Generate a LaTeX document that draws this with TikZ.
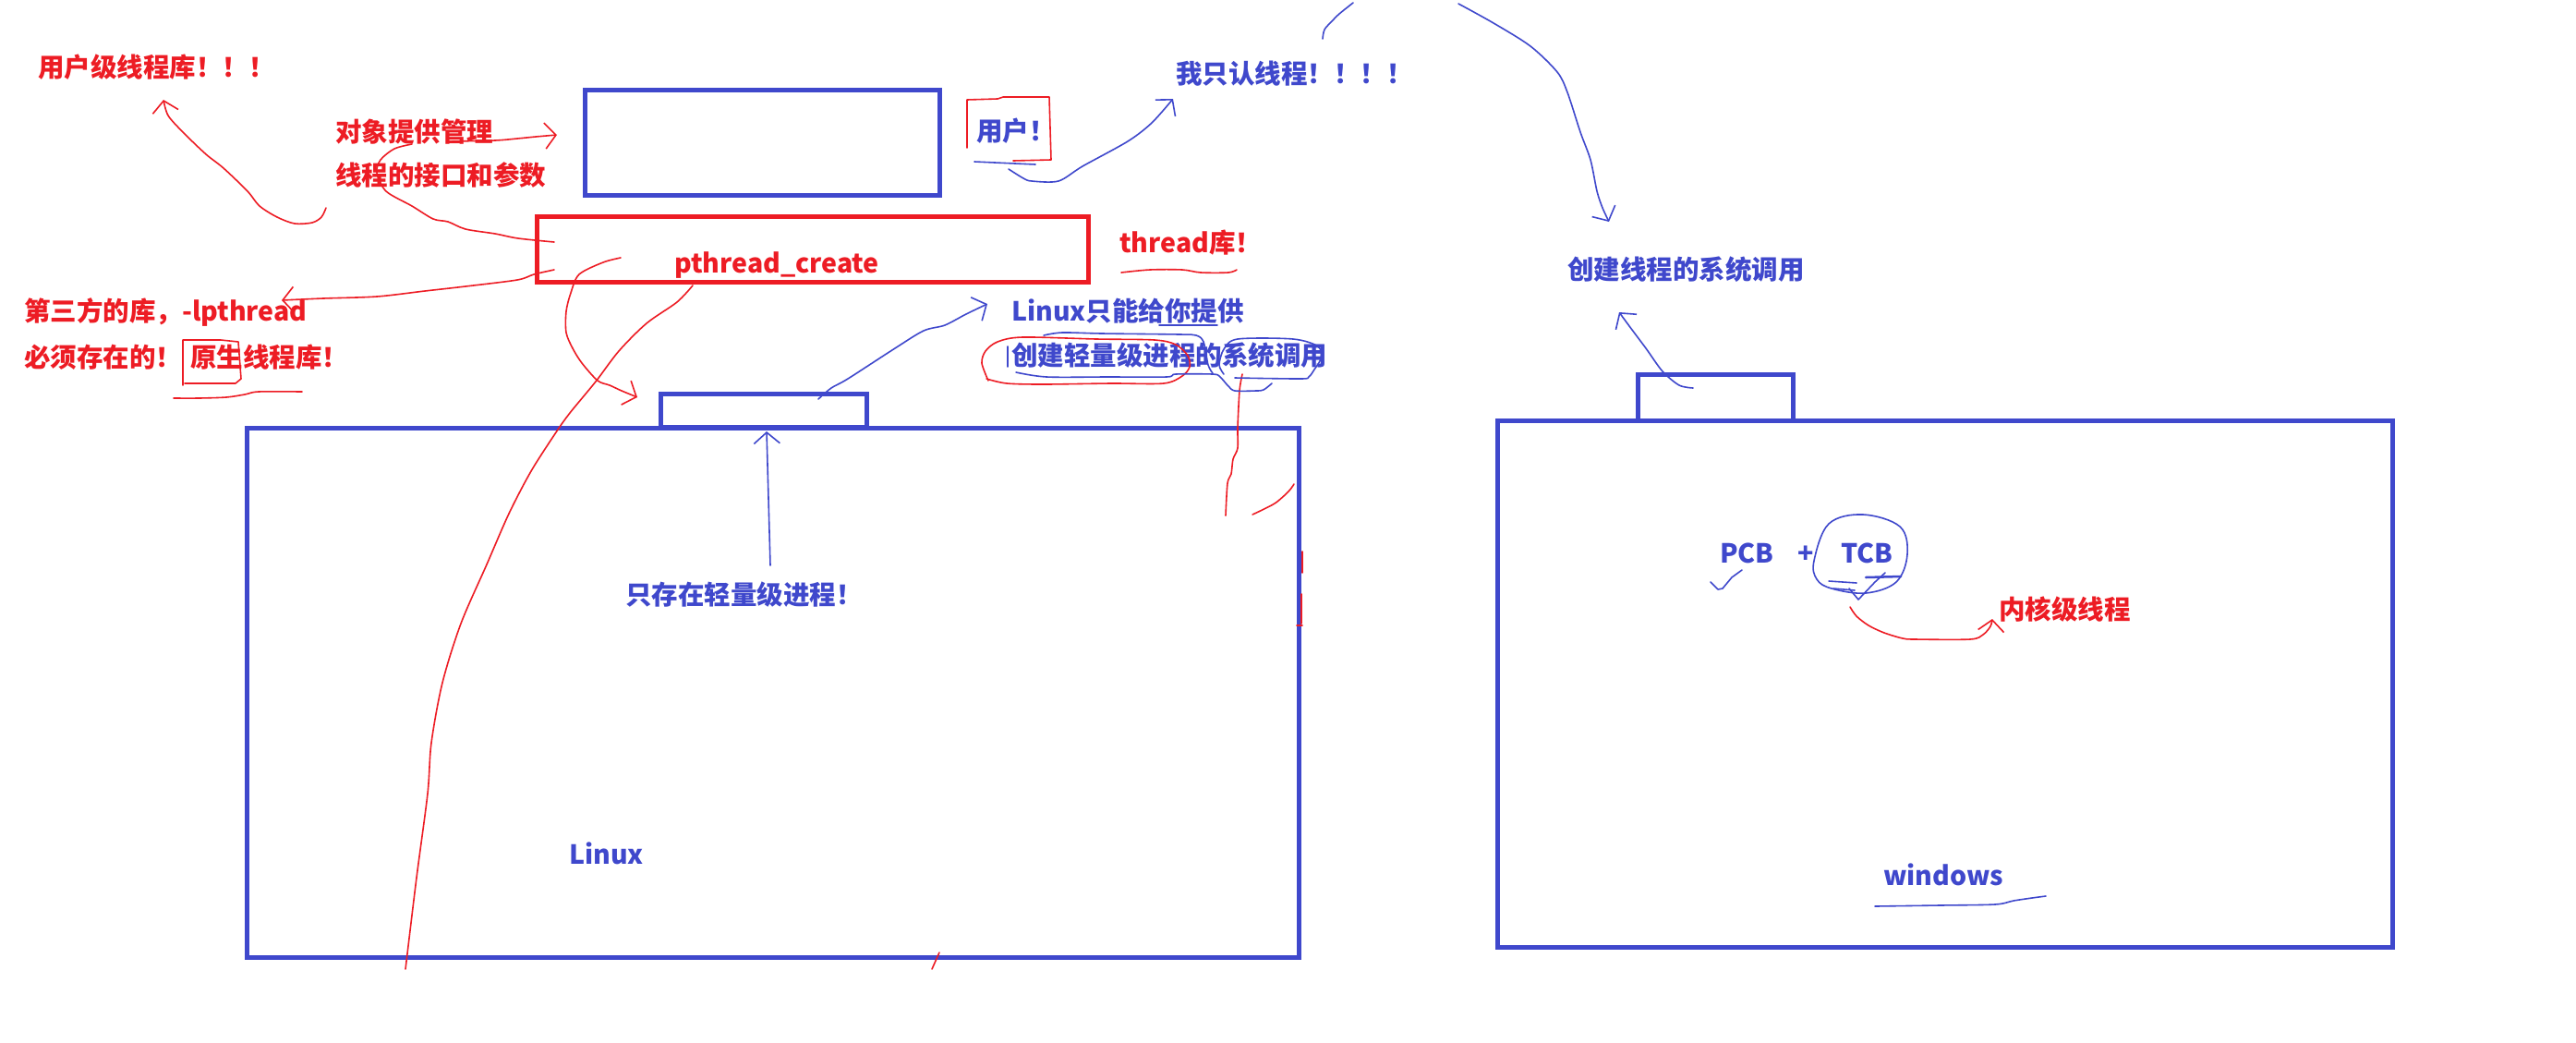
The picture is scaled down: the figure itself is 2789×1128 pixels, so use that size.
\documentclass[tikz,border=0pt]{standalone}
\usepackage{fontspec}
\setmainfont{Noto Sans CJK SC}
\usetikzlibrary{arrows.meta}
\definecolor{pblue}{HTML}{3F48CC}
\definecolor{pred}{HTML}{ED1C24}
\begin{document}
\begin{tikzpicture}[x=1pt,y=-1pt,
  box/.style={draw=pblue,line width=5pt,inner sep=0pt,outer sep=0pt},
  rbox/.style={draw=pred,line width=5pt,inner sep=0pt,outer sep=0pt},
  lbl/.style={font=\bfseries\fontsize{28.5}{30}\selectfont,inner sep=0pt,anchor=west},
  rl/.style={lbl,text=pred},
  bl/.style={lbl,text=pblue},
  rpen/.style={draw=pred,line width=1.6pt,line cap=round,line join=round},
  bpen/.style={draw=pblue,line width=1.6pt,line cap=round,line join=round},
  tip/.style={-{Straight Barb[length=12pt,width=28pt]}}
]
\useasboundingbox[fill=white] (0,0) rectangle (2789,1128);

% ---------- boxes ----------
\node[box,minimum width=384pt,minimum height=114pt] (userbox) at (825,154) {};
\node[rbox,minimum width=597pt,minimum height=71pt] (pbox) at (879.5,270) {};
\node[box,minimum width=223pt,minimum height=36pt] (ltab) at (826.5,444) {};
\node[box,minimum width=1139pt,minimum height=573pt] (lbox) at (836.5,749.5) {};
\node[box,minimum width=168pt,minimum height=50pt] (wtab) at (1857,430) {};
\node[box,minimum width=969pt,minimum height=570pt] (wbox) at (2105.5,740) {};

% ---------- texts ----------
\node[rl] (tuserlib) at (41,73) {用户级线程库！！！};
\node[rl] (tobj1) at (363,143) {对象提供管理};
\node[rl] (tobj2) at (363,190) {线程的接口和参数};
\node[rl] (tthird) at (26,338) {第三方的库，-lpthread};
\node[rl] (tmust) at (26,387) {必须存在的！\hspace{9pt}原生线程库！};
\node[rl] (tpc) at (730,287) {pthread\_create};
\node[rl] (tthread) at (1212,263) {thread库！};
\node[bl] (tuser) at (1057,142) {用户！};
\node[bl] (tonly) at (1273,80) {我只认线程！！！！};
\node[bl] (tlx1) at (1095,337) {Linux只能给你提供};
\node[bl] (tlx2) at (1095,385) {创建轻量级进程的系统调用};
\node[bl] (tlwp) at (677,644) {只存在轻量级进程！};
\node[bl] (tlinux) at (616,924) {Linux};
\node[bl] (twinsys) at (1697,292) {创建线程的系统调用};
\node[bl] (tpcb) at (1862,599) {PCB};
\node[bl,anchor=center] (tplus) at (1955,600) {+};
\node[bl] (ttcb) at (1993,599) {TCB};
\node[bl] (twin) at (2039,947) {windows};
\node[rl] (tkernel) at (2164,660) {内核级线程};

% ---------- red freehand ----------
% arrow up to 用户级线程库
\draw[rpen,tip] plot[smooth,tension=0.5] coordinates {(353,225) (348,235) (338,241) (319,242) (300,235) (281,223) (268,207) (242,182) (223,167) (198,143) (182,125) (177,108)};
% arrow to user box
\draw[rpen,tip] plot[smooth,tension=0.5] coordinates {(490,153) (536,152) (560,150) (580,148) (603,146)};
% bracket curve to pthread box
\draw[rpen] plot[smooth,tension=0.5] coordinates {(446,156) (427,161) (412,173) (408,187) (418,207) (446,223) (469,237) (485,240) (504,248) (536,253) (561,258) (600,262)};
% arrow to 第三方
\draw[rpen,tip] plot[smooth,tension=0.5] coordinates {(600,292) (578,297) (560,303) (504,310) (460,315) (408,321) (350,323) (305,325)};
% small box round 原生
\draw[rpen] (198,417) -- (198,368) -- (239,368) -- (258,370) -- (261,410) -- (255,415) -- (200,415);
% underline 原生线程库
\draw[rpen] plot[smooth,tension=0.5] coordinates {(188,431) (215,431) (245,430) (265,427) (280,424) (327,424)};
% curve A to Linux tab
\draw[rpen,tip] plot[smooth,tension=0.5] coordinates {(672,279) (653,284) (627,297) (618,317) (613,337) (613,360) (620,377) (630,393) (647,412) (660,417) (673,423) (690,430)};
% long curve B
\draw[rpen] plot[smooth,tension=0.5] coordinates {(750,309) (733,327) (700,350) (670,380) (645,413) (617,447) (602,468) (575,510) (551,556) (527,611) (499,675) (479,739) (467,804) (463,859) (451,950) (439,1049)};
% ellipse round 创建轻量级
\draw[rpen] plot[smooth,tension=0.5] coordinates {(1070,412) (1063,393) (1067,380) (1080,370) (1107,365) (1187,367) (1250,368) (1273,373) (1286,385) (1288,397) (1280,407) (1260,415) (1203,415) (1130,416) (1090,415) (1068,410)};
% vertical red line near Linux right
\draw[rpen] plot[smooth,tension=0.5] coordinates {(1345,405) (1342,423) (1340,463) (1340,485) (1335,497) (1333,513) (1329,523) (1327,558)};
\draw[rpen] plot[smooth,tension=0.5] coordinates {(1356,557) (1380,545) (1395,532) (1401,524)};
\draw[rpen] (1410,597) -- (1410,620);
\draw[rpen] (1409,643) -- (1409,675);
\draw[rpen] (1404,677) -- (1410,677);
% small bottom stroke
\draw[rpen] (1017,1031) -- (1009,1049);
% underline thread库
\draw[rpen] plot[smooth,tension=0.5] coordinates {(1214,295) (1245,292) (1280,292) (1300,295) (1330,295) (1339,292)};
% box round 用户！
\draw[rpen] (1047,160) -- (1047,108) -- (1080,107) -- (1086,105) -- (1136,105) -- (1138,173) -- (1097,174);
% TCB -> 内核级线程
\draw[rpen,tip] plot[smooth,tension=0.5] coordinates {(2003,657) (2010,667) (2023,677) (2040,685) (2060,691) (2073,692) (2133,692) (2147,687) (2155,678) (2157,670)};

% ---------- blue freehand ----------
% under 用户 and arrow to 我只认线程
\draw[bpen] (1055,175) -- (1121,178);
\draw[bpen,tip] plot[smooth,tension=0.5] coordinates {(1092,183) (1108,193) (1117,196) (1146,196) (1172,180) (1221,153) (1247,133) (1270,107)};
% top small stroke
\draw[bpen] plot[smooth,tension=0.5] coordinates {(1465,3) (1450,15) (1442,23) (1434,32) (1432,42)};
% big arrow down to 创建线程的系统调用
\draw[bpen,tip] plot[smooth,tension=0.5] coordinates {(1579,4) (1617,25) (1657,50) (1686,78) (1697,100) (1711,143) (1722,173) (1729,207) (1735,225) (1742,240)};
% windows tab -> text
\draw[bpen,tip] plot[smooth,tension=0.5] coordinates {(1833,420) (1818,417) (1800,402) (1782,377) (1767,357) (1753,338)};
% Linux tab -> Linux只能给你提供
\draw[bpen,tip] plot[smooth,tension=0.5] coordinates {(886,432) (900,420) (918,410) (969,377) (1000,358) (1023,352) (1046,340) (1069,329)};
% vertical arrow to Linux tab
\draw[bpen,tip] (tlwp.north -| 834,0) ++(0,-18) -- (830,467);
% underline 你提供
\draw[bpen] (1255,352) -- (1318,352);
% scribbles round the second line
\draw[bpen] (1091,375) -- (1091,397);
\draw[bpen] plot[smooth,tension=0.5] coordinates {(1130,363) (1150,360) (1193,361) (1277,362) (1295,363) (1303,370) (1308,395) (1313,404)};
\draw[bpen] plot[smooth,tension=0.5] coordinates {(1100,403) (1133,408) (1200,408) (1263,408) (1273,405) (1313,405) (1320,407) (1323,410) (1330,418) (1337,423) (1360,423) (1368,422) (1377,415)};
\draw[bpen] plot[smooth,tension=0.5] coordinates {(1337,409) (1408,410) (1417,408) (1423,400) (1430,388) (1427,375) (1400,367) (1340,367) (1325,378) (1320,395) (1325,405)};
% TCB circle and marks
\draw[bpen] plot[smooth cycle,tension=0.6] coordinates {(2017,557) (2057,570) (2065,600) (2053,630) (2020,642) (1983,637) (1967,627) (1964,607) (1980,567)};
\draw[bpen] (1980,629) -- (2010,631);
\draw[bpen,line width=2.5pt] (2020,625) -- (2058,624);
\draw[bpen] (1985,637) -- (2008,639);
\draw[bpen] (2002,637) -- (2012,649) -- (2030,630) -- (2041,620);
\draw[bpen] (1852,630) -- (1860,638) -- (1865,637) -- (1875,625) -- (1886,617);
% windows underline
\draw[bpen] plot[smooth,tension=0.5] coordinates {(2030,981) (2100,980) (2160,979) (2180,975) (2200,972) (2215,970)};
\end{tikzpicture}
\end{document}
